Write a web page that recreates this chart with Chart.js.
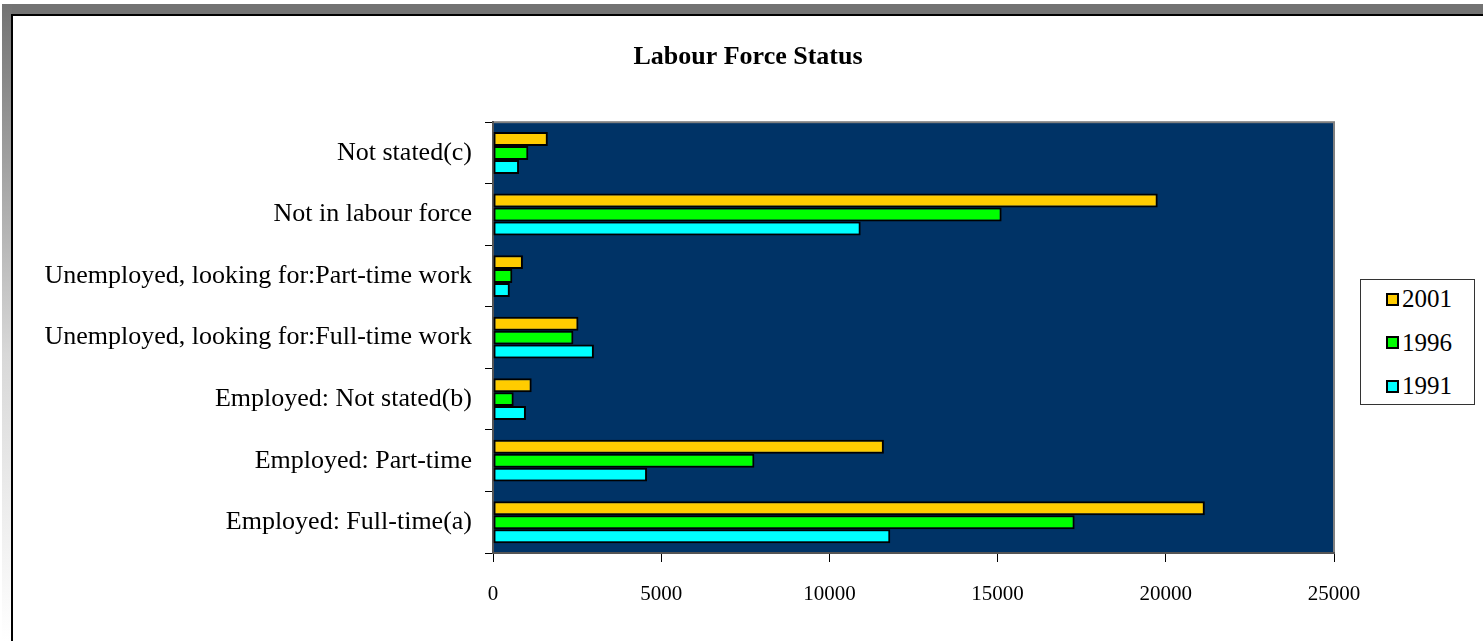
<!DOCTYPE html>
<html>
<head>
<meta charset="utf-8">
<script src="https://cdn.jsdelivr.net/npm/chart.js@4"></script>
<style>
  html, body { margin: 0; padding: 0; background: #fff; }
  body { width: 1483px; height: 641px; position: relative; overflow: hidden; font-family: "Liberation Serif", serif; }
  #frameTop { position: absolute; left: 2px; top: 4px; width: 1481px; height: 10px; background: #737373; }
  #frameLeft { position: absolute; left: 2px; top: 4px; width: 10px; height: 637px;
    background: linear-gradient(to bottom, #737373 0%, #d8d8d8 55%, #ffffff 100%); }
  #frameLine { position: absolute; left: 11px; top: 14px; right: 0; bottom: 0; border-left: 2px solid #000; border-top: 2px solid #000; }
  #chartBox { position: absolute; left: 0; top: 0; width: 1483px; height: 641px; }
  #legend { position: absolute; left: 1360px; top: 279px; width: 115px; height: 126px; border: 1px solid #333; background: #fff; box-sizing: border-box; }
  .item { position: absolute; left: 25px; height: 30px; display: flex; align-items: center; font-size: 25px; color: #000; }
  .swatch { width: 9px; height: 9px; border: 2px solid #000; margin-right: 3px; }
</style>
</head>
<body>
<div id="frameTop"></div>
<div id="frameLeft"></div>
<div id="frameLine"></div>
<div id="chartBox"><canvas id="myChart" width="1483" height="641"></canvas></div>
<div id="legend"></div>
<script>
// --- Data (top to bottom as drawn) ---
const categories = [
	"Not stated(c)",
	"Not in labour force",
	"Unemployed, looking for:Part-time work",
	"Unemployed, looking for:Full-time work",
	"Employed: Not stated(b)",
	"Employed: Part-time",
	"Employed: Full-time(a)",
];
const years = ["2001", "1996", "1991"];
const values2001 = [1630, 19760, 890, 2540, 1150, 11620, 21160];
const values1996 = [1050, 15120, 575, 2390, 615, 7770, 17290];
const values1991 = [775, 10930, 500, 3000, 980, 4580, 11810];
const xTicks = [0, 5000, 10000, 15000, 20000, 25000];
const colors = ["#FFCC00", "#00FF00", "#00FFFF"];

const FONT = "'Liberation Serif', 'Times New Roman', serif";

// plot background + border
const plotBackground = {
	id: "plotBackground",
	beforeDraw(chart) {
		const { ctx, chartArea: a } = chart;
		ctx.save();
		ctx.fillStyle = "#003366";
		ctx.fillRect(a.left, a.top, a.right - a.left, a.bottom - a.top);
		ctx.strokeStyle = "#808080";
		ctx.lineWidth = 2;
		ctx.strokeRect(a.left, a.top, a.right - a.left, a.bottom - a.top);
		ctx.restore();
	},
};

// title is centred on the whole frame, not just the plot column
const wideTitle = {
	id: "wideTitle",
	afterLayout(chart) {
		const t = chart.titleBlock;
		if (!t) return;
		t.left = 13;
		t.right = 1483;
		t.width = t.right - t.left;
	},
};

const seriesValues = [values2001, values1996, values1991];

const chart = new Chart(document.getElementById("myChart").getContext("2d"), {
	type: "bar",
	data: {
		labels: categories,
		datasets: years.map((y, i) => ({
			label: y,
			data: seriesValues[i],
			backgroundColor: colors[i],
			borderColor: "#000",
			borderWidth: 2,
			borderSkipped: false,
			categoryPercentage: 0.68,
			barPercentage: 1.0,
		})),
	},
	options: {
		indexAxis: "y",
		responsive: false,
		animation: false,
		layout: { padding: { left: 0, right: 149, top: 0, bottom: 0 } },
		plugins: {
			legend: { display: false },
			tooltip: { enabled: false },
			title: {
				display: true,
				text: "Labour Force Status",
				color: "#000",
				font: { family: FONT, size: 26, weight: "bold" },
				padding: { top: 42, bottom: 49 },
			},
		},
		scales: {
			x: {
				min: 0,
				max: 25000,
				afterBuildTicks: (scale) => {
					scale.ticks = xTicks.map((v) => ({ value: v }));
				},
				afterFit: (scale) => {
					scale.height = 88;
				},
				grid: { drawOnChartArea: false, color: "#000", tickLength: 9, tickWidth: 1 },
				border: { color: "#555", width: 2 },
				ticks: {
					color: "#000",
					padding: 20,
					maxRotation: 0,
					callback: (v) => String(v),
					font: { family: FONT, size: 21 },
				},
			},
			y: {
				afterFit: (scale) => {
					scale.width = 493;
				},
				grid: { drawOnChartArea: false, offset: true, color: "#000", tickLength: 8, tickWidth: 1 },
				border: { color: "#555", width: 2 },
				ticks: {
					color: "#000",
					padding: 13,
					font: { family: FONT, size: 26 },
				},
			},
		},
	},
	plugins: [plotBackground, wideTitle],
});

// --- HTML legend ---
const legend = document.getElementById("legend");
years.forEach((y, i) => {
	const row = document.createElement("div");
	row.className = "item";
	row.style.top = 4 + i * 43.5 + "px";
	row.innerHTML = `<span class="swatch" style="background:${colors[i]}"></span><span>${y}</span>`;
	legend.appendChild(row);
});
</script>
</body>
</html>
